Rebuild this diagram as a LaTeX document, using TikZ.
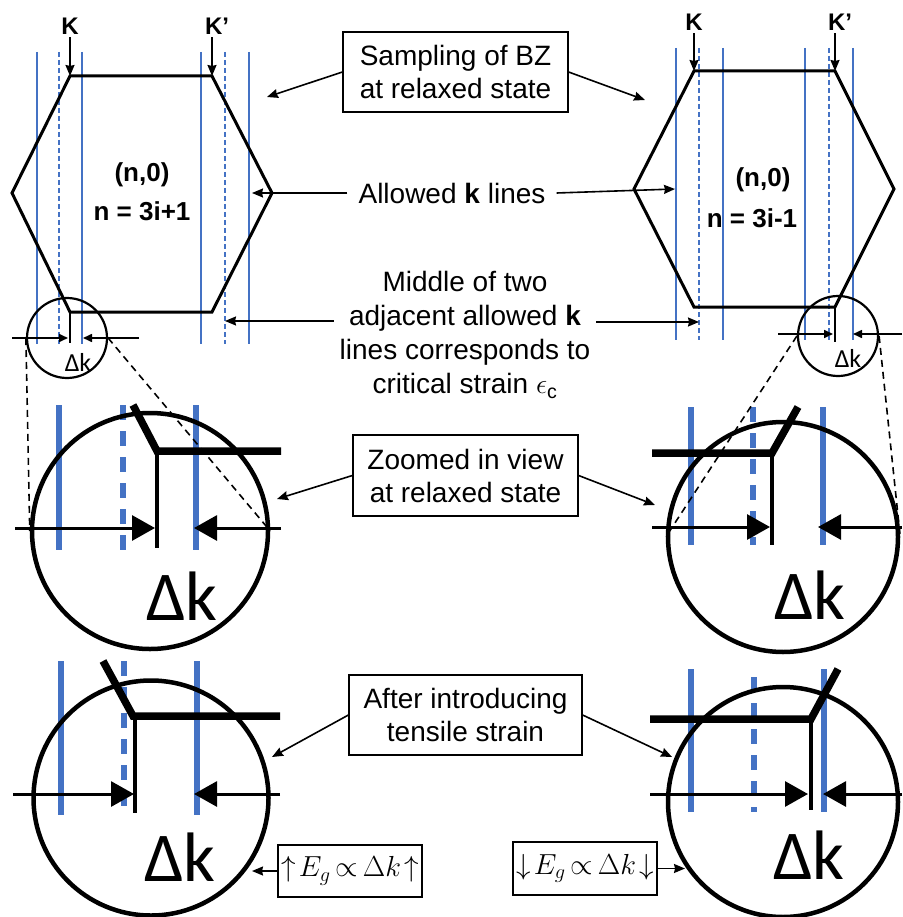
\RequirePackage{fix-cm}
\documentclass[tikz,border=0pt]{standalone}
\usepackage{fontspec}
\setmainfont{Liberation Sans}
\newfontfamily\calfont{Carlito}
\usetikzlibrary{arrows.meta}
\definecolor{kblue}{HTML}{4472C4}
\newcommand{\sz}[2]{\fontsize{#1}{#2}\selectfont}

\begin{document}
\begin{tikzpicture}[x=1pt,y=-1pt,
  hexline/.style={line width=3pt,line join=miter},
  kline/.style={draw=kblue,line width=1.8pt},
  kdash/.style={kline,dash pattern=on 5pt off 3pt},
  lens/.style={circle,draw,line width=2.2pt,inner sep=0pt,minimum size=80pt},
  biglens/.style={circle,draw,line width=4.5pt,inner sep=0pt,minimum size=234pt},
  zoomline/.style={line width=1.6pt,dash pattern=on 7pt off 5pt},
  bigk/.style={draw=kblue,line width=6pt},
  bigkdash/.style={bigk,dash pattern=on 15pt off 11pt},
  bighex/.style={line width=7.5pt,line join=miter},
  bigstem/.style={line width=3.5pt},
  stem/.style={line width=2pt},
  gaparrow/.style={line width=3pt,-{Triangle[length=23pt,width=25pt]}},
  smallgap/.style={line width=1.6pt,-{Triangle[length=9pt,width=8pt]}},
  callout/.style={line width=1.6pt,-{Stealth[length=11pt,width=9pt,inset=1pt]}},
  note/.style={draw,line width=1.2pt,align=center,inner sep=0pt,font=\sz{28}{33}},
  plain/.style={align=center,font=\sz{28}{34}},
  klabel/.style={font=\bfseries\sz{24}{28},inner sep=0pt},
  bzlabel/.style={font=\bfseries\sz{26}{30},inner sep=0pt},
  dk/.style={font=\calfont\sz{26}{30},inner sep=0pt},
  bigdk/.style={font=\calfont\sz{70}{80},inner sep=0pt},
]
\useasboundingbox (0,0) rectangle (902,917);

% ---------- left Brillouin zone, n = 3i+1 ----------
\foreach \x in {37,82,201,249} \draw[kline] (\x,52) -- (\x,344);
\foreach \x in {59,225} \draw[kdash] (\x,52) -- (\x,344);
\draw[hexline] (70,76) -- (212,76) -- (272,193) -- (212,312) -- (70,312) -- (12,193) -- cycle;
\coordinate (vKL) at (70,76);
\coordinate (vKpL) at (212,76);
\node[klabel] (kL) at (70,26) {K};
\node[klabel] (kpL) at (217,26) {K’};
\draw[callout] ([yshift=-3pt]kL.south -| vKL) -- (vKL);
\draw[callout] ([yshift=-3pt]kpL.south -| vKpL) -- (vKpL);
\node[bzlabel] (typeL) at (142,175) {(n,0)};
\node[bzlabel] (ruleL) at (142,211) {n = 3i+1};

% small lens on the left zone
\node[lens] (lensL) at (67,338) {};
\draw[stem] (70,312) -- (70,343);
\coordinate (gLa) at (12,338);  \coordinate (gLb) at (68,338);
\coordinate (gLc) at (139,338); \coordinate (gLd) at (83,338);
\draw[smallgap] (gLa) -- (gLb);
\draw[smallgap] (gLc) -- (gLd);
\node[dk] (dkL) at (78,362) {Δk};

% ---------- right Brillouin zone, n = 3i-1 ----------
\foreach \x in {676,723,805,853} \draw[kline] (\x,48) -- (\x,340);
\foreach \x in {699,829} \draw[kdash] (\x,48) -- (\x,340);
\draw[hexline] (694,71) -- (835,71) -- (894,189) -- (835,307) -- (694,307) -- (634,189) -- cycle;
\coordinate (vKR) at (694,71);
\coordinate (vKpR) at (835,71);
\node[klabel] (kR) at (694,22) {K};
\node[klabel] (kpR) at (840,22) {K’};
\draw[callout] ([yshift=-3pt]kR.south -| vKR) -- (vKR);
\draw[callout] ([yshift=-3pt]kpR.south -| vKpR) -- (vKpR);
\node[bzlabel] (typeR) at (763,180) {(n,0)};
\node[bzlabel] (ruleR) at (752,218) {n = 3i-1};

% small lens on the right zone
\node[lens] (lensR) at (838,336) {};
\draw[stem] (835,307) -- (835,342);
\coordinate (gRa) at (778,334); \coordinate (gRb) at (833,334);
\coordinate (gRc) at (902,334); \coordinate (gRd) at (853,334);
\draw[smallgap] (gRa) -- (gRb);
\draw[smallgap] (gRc) -- (gRd);
\node[dk] (dkR) at (848,358) {Δk};

% ---------- magnified view, left, relaxed ----------
\foreach \x in {59,196} \draw[bigk] (\x,405) -- (\x,550);
\draw[bigkdash] (123,405) -- (123,550);
\draw[bighex] (133,405) -- (157,451) -- (281,451);
\node[biglens,minimum size=236pt] (bigL) at (150,531) {};
\draw[bigstem] (157,451) -- (157,548);
\coordinate (hLa) at (15,528);  \coordinate (hLb) at (155,528);
\coordinate (hLc) at (281,528); \coordinate (hLd) at (194,528);
\draw[gaparrow] (hLa) -- (hLb);
\draw[gaparrow] (hLc) -- (hLd);
\node[bigdk] (bigdkL) at (182,596) {Δk};

% ---------- magnified view, right, relaxed ----------
\foreach \x in {691,823} \draw[bigk] (\x,407) -- (\x,545);
\draw[bigkdash] (753,407) -- (753,545);
\draw[bighex] (652,453) -- (772,453) -- (798,407);
\node[biglens,minimum size=230pt] (bigR) at (783,537) {};
\draw[bigstem] (772,453) -- (772,545);
\coordinate (hRa) at (652,527); \coordinate (hRb) at (770,527);
\coordinate (hRc) at (902,527); \coordinate (hRd) at (818,527);
\draw[gaparrow] (hRa) -- (hRb);
\draw[gaparrow] (hRc) -- (hRd);
\node[bigdk] (bigdkR) at (810,595) {Δk};

% ---------- magnified view, left, strained ----------
\foreach \x in {61,197} \draw[bigk] (\x,661) -- (\x,815);
\draw[bigkdash] (124,661) -- (124,815);
\draw[bighex] (103,661) -- (133,716) -- (280,716);
\node[biglens,minimum size=235pt] (strL) at (151,798) {};
\draw[bigstem] (135,716) -- (135,813);
\coordinate (sLa) at (13,794);  \coordinate (sLb) at (134,794);
\coordinate (sLc) at (280,794); \coordinate (sLd) at (194,794);
\draw[gaparrow] (sLa) -- (sLb);
\draw[gaparrow] (sLc) -- (sLd);
\node[bigdk] (strdkL) at (180,857) {Δk};

% ---------- magnified view, right, strained ----------
\foreach \x in {691,824} \draw[bigk] (\x,669) -- (\x,812);
\draw[bigkdash] (754,677) -- (754,812);
\draw[bighex] (650,719) -- (811,719) -- (838,669);
\node[biglens,minimum size=230pt] (strR) at (783,802) {};
\draw[bigstem] (811,719) -- (811,810);
\coordinate (sRa) at (650,794); \coordinate (sRb) at (808,794);
\coordinate (sRc) at (902,794); \coordinate (sRd) at (823,794);
\draw[gaparrow] (sRa) -- (sRb);
\draw[gaparrow] (sRc) -- (sRd);
\node[bigdk] (strdkR) at (809,855) {Δk};

% ---------- lens-to-magnification guides ----------
\draw[zoomline] (lensL.west) -- (bigL.west);
\draw[zoomline] (lensL.east) -- (bigL.east);
\draw[zoomline] (lensR.west) -- (bigR.west);
\draw[zoomline] (lensR.east) -- (bigR.east);

% ---------- annotations ----------
\node[note,minimum width=225pt,minimum height=80pt] (samp) at (455.5,72)
  {Sampling of BZ\\at relaxed state};
\coordinate (sampL) at (267,97);
\coordinate (sampR) at (645,100);
\draw[callout] (samp.west) -- (sampL);
\draw[callout] (samp.east) -- (sampR);

\node[plain,inner xsep=11pt,inner ysep=2pt] (allowed) at (452,193)
  {Allowed \textbf{k} lines};
\coordinate (allowL) at (252,193);
\coordinate (allowR) at (675,189);
\draw[callout] (allowed.west) -- (allowL);
\draw[callout] (allowed.east) -- (allowR);

\node[plain,inner sep=6pt] (middle) at (465,335)
  {Middle of two\\adjacent allowed \textbf{k}\\lines corresponds to\\critical strain $\epsilon_{\mathrm{c}}$};
\coordinate (midL) at (225,321);
\coordinate (midR) at (699,322);
\draw[callout] (middle.west |- midL) -- (midL);
\draw[callout] (middle.east |- midR) -- (midR);

\node[note,minimum width=225pt,minimum height=81pt] (zoomed) at (465.5,475.5)
  {Zoomed in view\\at relaxed state};
\coordinate (zoomL) at (277,499);
\coordinate (zoomR) at (655,505);
\draw[callout] (zoomed.west) -- (zoomL);
\draw[callout] (zoomed.east) -- (zoomR);

\node[note,minimum width=233pt,minimum height=80pt] (after) at (465.5,715)
  {After introducing\\tensile strain};
\coordinate (afterL) at (272,757);
\coordinate (afterR) at (672,757);
\draw[callout] (after.west) -- (afterL);
\draw[callout] (after.east) -- (afterR);

\node[note,minimum width=144pt,minimum height=52pt,font=\sz{29}{34}] (gapUp) at (350,871)
  {$\uparrow\! E_g\,{\propto}\,\Delta k\!\uparrow$};
\coordinate (gapUpT) at (252,871);
\draw[callout] (gapUp.west) -- (gapUpT);

\node[note,minimum width=144pt,minimum height=53pt,font=\sz{29}{34}] (gapDown) at (585,868.5)
  {$\downarrow\! E_g\,{\propto}\,\Delta k\!\downarrow$};
\coordinate (gapDownT) at (685,868.5);
\draw[callout] (gapDown.east) -- (gapDownT);
\end{tikzpicture}
\end{document}
